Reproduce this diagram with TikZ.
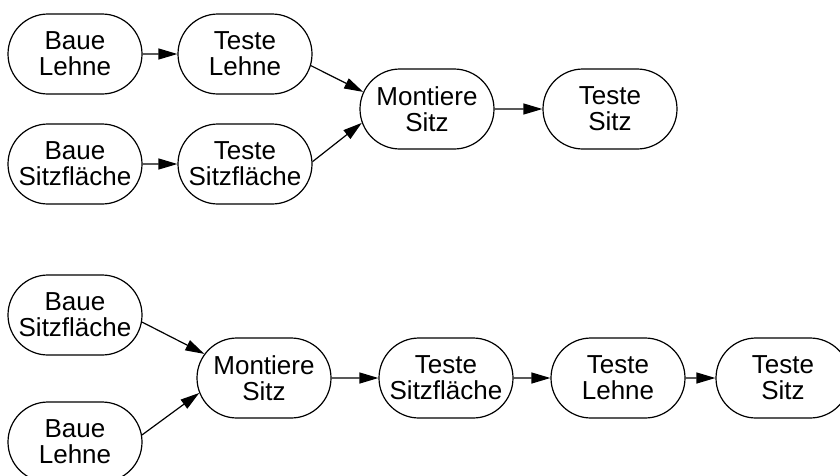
\documentclass[tikz,border=0pt]{standalone}
\usepackage{fontspec}
\setmainfont{Liberation Sans}
\usetikzlibrary{shapes.misc,arrows.meta}
\begin{document}
\begin{tikzpicture}[x=1pt,y=-1pt,
  task/.style={draw, line width=1.2pt, rounded rectangle, minimum width=134pt,
    minimum height=80pt, inner sep=0pt, align=center,
    font=\fontsize{26}{26}\selectfont},
  flow/.style={line width=1.2pt, -{Triangle[length=19pt,width=11pt]}}]
\useasboundingbox (0,0) rectangle (840,475);
\clip (0,0) rectangle (840,475);
% first plan: parts built and tested separately
\node[task] (bl1) at (75,54) {Baue\\Lehne};
\node[task] (tl1) at (245,54) {Teste\\Lehne};
\node[task] (bs1) at (75,164) {Baue\\Sitzfläche};
\node[task] (ts1) at (245,164) {Teste\\Sitzfläche};
\node[task] (ms1) at (427,109) {Montiere\\Sitz};
\node[task] (tz1) at (610,109) {Teste\\Sitz};
\draw[flow] (bl1) -- (tl1);
\draw[flow] (bs1) -- (ts1);
\draw[flow] (tl1.-10) -- (ms1.165);
\draw[flow] (ts1.2) -- (ms1.-168);
\draw[flow] (ms1) -- (tz1);
% second plan: assemble first, then test
\node[task] (bs2) at (75,315) {Baue\\Sitzfläche};
\node[task] (bl2) at (75,442) {Baue\\Lehne};
\node[task] (ms2) at (264,378) {Montiere\\Sitz};
\node[task] (ts2) at (446,378) {Teste\\Sitzfläche};
\node[task] (tl2) at (618,378) {Teste\\Lehne};
\node[task] (tz2) at (783,378) {Teste\\Sitz};
\draw[flow] (bs2.-6) -- (ms2.158);
\draw[flow] (bl2.6) -- (ms2.-167);
\draw[flow] (ms2) -- (ts2);
\draw[flow] (ts2) -- (tl2);
\draw[flow] (tl2) -- (tz2);
\end{tikzpicture}
\end{document}
